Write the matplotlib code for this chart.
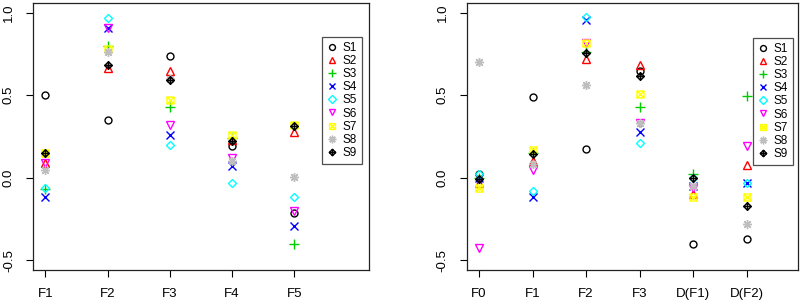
import numpy as np
import matplotlib
matplotlib.use('Agg')
import matplotlib.pyplot as plt
from matplotlib.path import Path
from matplotlib.lines import Line2D

# ---------- data ----------
series = ['S1', 'S2', 'S3', 'S4', 'S5', 'S6', 'S7', 'S8', 'S9']

left_labels = ['F1', 'F2', 'F3', 'F4', 'F5']
left_vals = {
    'S1': [0.50, 0.35, 0.74, 0.19, -0.215],
    'S2': [0.09, 0.665, 0.645, 0.23, 0.275],
    'S3': [-0.07, 0.80, 0.43, 0.24, -0.405],
    'S4': [-0.115, 0.91, 0.26, 0.07, -0.29],
    'S5': [-0.065, 0.97, 0.20, -0.03, -0.115],
    'S6': [0.09, 0.91, 0.32, 0.12, -0.20],
    'S7': [0.15, 0.78, 0.47, 0.26, 0.32],
    'S8': [0.045, 0.76, 0.60, 0.10, 0.005],
    'S9': [0.15, 0.685, 0.59, 0.225, 0.315],
}

right_labels = ['F0', 'F1', 'F2', 'F3', 'D(F1)', 'D(F2)']
right_vals = {
    'S1': [0.02, 0.49, 0.175, 0.65, -0.405, -0.37],
    'S2': [-0.03, 0.10, 0.72, 0.685, -0.10, 0.075],
    'S3': [0.0, 0.15, 0.76, 0.43, 0.025, 0.495],
    'S4': [0.0, -0.115, 0.955, 0.275, -0.05, -0.03],
    'S5': [0.02, -0.08, 0.975, 0.21, 0.0, -0.03],
    'S6': [-0.425, 0.045, 0.82, 0.33, -0.06, 0.19],
    'S7': [-0.065, 0.17, 0.82, 0.51, -0.115, -0.12],
    'S8': [0.70, 0.085, 0.56, 0.33, -0.05, -0.28],
    'S9': [-0.005, 0.145, 0.755, 0.62, 0.0, -0.17],
}

# R default palette
colors = ['#000000', '#FF0000', '#00CD00', '#0000FF', '#00FFFF',
          '#FF00FF', '#FFFF00', '#BEBEBE', '#000000']

# ---------- R-like pch markers ----------
sq_x = Path([(-1, -1), (1, -1), (1, 1), (-1, 1), (-1, -1),
             (-1, -1), (1, 1), (-1, 1), (1, -1)],
            [Path.MOVETO, Path.LINETO, Path.LINETO, Path.LINETO, Path.CLOSEPOLY,
             Path.MOVETO, Path.LINETO, Path.MOVETO, Path.LINETO])
dia_plus = Path([(0, -1), (1, 0), (0, 1), (-1, 0), (0, -1),
                 (0, -1), (0, 1), (-1, 0), (1, 0)],
                [Path.MOVETO, Path.LINETO, Path.LINETO, Path.LINETO, Path.CLOSEPOLY,
                 Path.MOVETO, Path.LINETO, Path.MOVETO, Path.LINETO])
markers = ['o', '^', '+', 'x', 'D', 'v', sq_x, (8, 2, 0), dia_plus]
msizes = [5, 5.5, 6.5, 5.5, 4.5, 5.5, 5, 6.5, 5.5]

plt.rcParams['font.family'] = ['Liberation Sans', 'DejaVu Sans']

fig = plt.figure(figsize=(8.05, 3.05), dpi=100)
ax1 = fig.add_axes([33 / 805, 1 - 270 / 305, (369 - 33) / 805, 267 / 305])
ax2 = fig.add_axes([466.7 / 805, 1 - 270 / 305, (798 - 466.7) / 805, 267 / 305])


def draw(ax, labels, vals, xlim, legend_anchor):
    x = np.arange(1, len(labels) + 1)
    handles = []
    for i, s in enumerate(series):
        ax.plot(x, vals[s], linestyle='none', marker=markers[i], markersize=msizes[i],
                markerfacecolor='none', markeredgecolor=colors[i], markeredgewidth=1.0)
        handles.append(Line2D([], [], linestyle='none', marker=markers[i],
                              markersize=msizes[i] * 0.85, markerfacecolor='none',
                              markeredgecolor=colors[i], markeredgewidth=1.0))
    ax.set_xlim(*xlim)
    ax.set_ylim(-0.56, 1.06)
    ax.set_xticks(x)
    ax.set_xticklabels(labels)
    ax.set_yticks([-0.5, 0.0, 0.5, 1.0])
    ax.set_yticklabels(['-0.5', '0.0', '0.5', '1.0'])
    for lbl in ax.get_yticklabels():
        lbl.set_rotation(90)
        lbl.set_va('center')
    ax.tick_params(axis='x', direction='out', length=5, width=0.8, pad=8, labelsize=9.5)
    ax.tick_params(axis='y', direction='out', length=5, width=0.8, pad=8, labelsize=9.5)
    for sp in ax.spines.values():
        sp.set_linewidth(0.9)
        sp.set_color('#222222')
    leg = ax.legend(handles, series, loc='upper right', bbox_to_anchor=legend_anchor,
                    bbox_transform=fig.transFigure, fontsize=8.5, frameon=True,
                    fancybox=False, labelspacing=0.1, handlelength=1.0,
                    handletextpad=0.4, borderpad=0.4, borderaxespad=0)
    leg.get_frame().set_edgecolor('#222222')
    leg.get_frame().set_linewidth(0.9)


draw(ax1, left_labels, left_vals, (0.8, 6.2), (362 / 805, 1 - 37 / 305))
draw(ax2, right_labels, right_vals, (0.77, 6.96), (793 / 805, 1 - 38 / 305))

fig.savefig('out.png', dpi=100)
